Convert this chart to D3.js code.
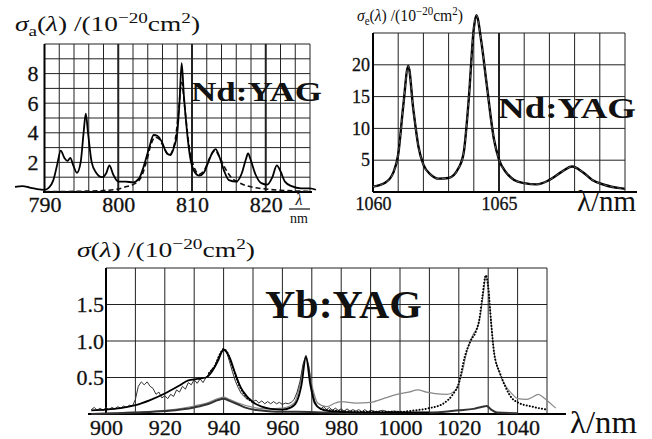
<!DOCTYPE html>
<html>
<head>
<meta charset="utf-8">
<script src="https://cdn.jsdelivr.net/npm/d3@7"></script>
<style>
  body { margin: 0; background: #fff; }
  text { font-family: "Liberation Serif", "DejaVu Serif", serif; fill: #111; }
</style>
</head>
<body>
<div id="chart"></div>
<script>
// ---- Nd:YAG absorption (top left) ----
let ndAbsWl  = [786, 787, 788, 789, 790, 790.6, 791.2, 791.7, 792.2, 792.7, 793.1, 793.5, 793.9, 794.4, 794.9, 795.3, 795.6, 795.9, 796.4, 797, 797.8, 798.4, 798.8, 799.3, 800, 801, 802, 802.8, 803.5, 804.2, 804.8, 805.3, 805.9, 806.6, 807.1, 807.6, 808.0, 808.3, 808.6, 808.9, 809.3, 809.7, 810.3, 811, 811.6, 812.2, 812.8, 813.2, 813.7, 814.3, 815, 816, 816.7, 817.3, 817.6, 818, 818.6, 819.4, 820.2, 820.9, 821.5, 822, 822.6, 823.5, 824.8, 826, 826.8];
let ndAbsVal = [0.35, 0.4, 0.3, 0.2, 0.15, 0.3, 0.8, 1.8, 2.8, 2.3, 2.1, 2.3, 1.8, 1.3, 2.0, 4.0, 5.3, 4.0, 2.0, 1.3, 1.0, 1.3, 1.8, 1.2, 0.7, 0.7, 0.65, 0.9, 1.8, 3.0, 3.85, 3.8, 3.4, 2.6, 2.5, 3.1, 4.0, 6.0, 8.7, 6.5, 4.2, 2.5, 1.4, 1.1, 1.3, 2.0, 2.7, 2.9, 2.4, 1.5, 0.8, 0.7, 1.2, 2.2, 2.6, 2.1, 1.2, 0.6, 0.5, 1.0, 1.8, 1.4, 0.7, 0.4, 0.25, 0.25, 0.15];
let ndFitWl  = [790, 795, 798, 800, 801, 802, 803, 803.8, 804.5, 805, 805.5, 806.2, 806.9, 807.6, 808.1, 808.6, 809, 809.5, 810.2, 811, 811.7, 812.4, 813.1, 813.8, 814.5, 815.3, 816.5, 818, 820, 822, 824, 826];
let ndFitVal = [0.02, 0.05, 0.1, 0.2, 0.35, 0.5, 0.9, 2.0, 3.3, 3.7, 3.6, 3.0, 2.5, 3.2, 5.0, 7.4, 5.8, 3.5, 1.8, 1.2, 1.5, 2.3, 2.8, 2.3, 1.6, 1.0, 0.6, 0.35, 0.2, 0.12, 0.07, 0.05];
let ndAbsXTicks = [790, 800, 810, 820];
let ndAbsYTicks = [2, 4, 6, 8];

// ---- Nd:YAG emission (top right) ----
let ndEmWl  = [1060, 1060.5, 1060.8, 1061, 1061.2, 1061.4, 1061.6, 1061.8, 1062, 1062.3, 1062.6, 1063, 1063.4, 1063.6, 1063.8, 1064, 1064.1, 1064.3, 1064.5, 1064.8, 1065, 1065.3, 1065.6, 1066, 1066.5, 1067, 1067.5, 1067.9, 1068.3, 1068.7, 1069.2, 1069.8, 1070];
let ndEmVal = [0.85, 1.5, 3, 5.9, 13.5, 19.8, 13, 7.2, 4.3, 2.7, 2.1, 2.2, 3.8, 6.2, 14.6, 25.7, 27.8, 23.6, 17.3, 8.3, 5.1, 3.0, 1.9, 1.4, 1.2, 1.9, 3.2, 4.0, 3.2, 1.9, 1.1, 0.6, 0.5];
let ndEmXTicks = [1060, 1065];
let ndEmYTicks = [5, 10, 15, 20];

// ---- Yb:YAG (bottom) ----
let ybAbsMeasWl  = [895, 896, 897, 898, 899, 900, 901, 902, 903, 904, 905, 906, 907, 908, 909, 910, 911, 912, 913, 914, 915, 916, 917, 918, 919, 920, 921, 922, 923, 924, 925, 926, 927, 928, 929, 930, 931, 932, 933, 934, 935, 936, 937, 938, 939, 940, 941, 942, 943, 944, 945, 946, 947, 948, 949, 950, 951, 952, 953, 954, 955, 956, 957, 958, 959, 960, 961, 962, 963, 964, 965, 966, 967, 968, 969, 970, 971, 972, 973, 974, 975, 976, 977, 978, 979, 980, 981, 982, 983, 984, 985, 986, 987, 988, 989, 990, 992, 994, 996, 998, 1000];
let ybAbsMeasVal = [0.06, 0.09, 0.05, 0.08, 0.05, 0.09, 0.06, 0.09, 0.07, 0.1, 0.08, 0.11, 0.09, 0.12, 0.11, 0.2, 0.38, 0.44, 0.4, 0.44, 0.38, 0.35, 0.27, 0.3, 0.22, 0.25, 0.21, 0.27, 0.24, 0.33, 0.3, 0.38, 0.34, 0.43, 0.4, 0.47, 0.42, 0.48, 0.43, 0.5, 0.55, 0.62, 0.65, 0.76, 0.84, 0.9, 0.85, 0.72, 0.58, 0.45, 0.36, 0.28, 0.24, 0.2, 0.21, 0.17, 0.19, 0.15, 0.18, 0.14, 0.17, 0.14, 0.17, 0.14, 0.16, 0.13, 0.15, 0.14, 0.16, 0.2, 0.3, 0.45, 0.68, 0.8, 0.65, 0.35, 0.18, 0.1, 0.07, 0.1, 0.06, 0.09, 0.05, 0.08, 0.05, 0.07, 0.04, 0.07, 0.04, 0.06, 0.04, 0.06, 0.03, 0.06, 0.03, 0.05, 0.03, 0.05, 0.03, 0.04, 0.03];
let ybAbsFitWl  = [895, 900, 905, 910, 915, 920, 925, 928, 931, 934, 936, 938, 940, 942, 944, 946, 948, 950, 953, 956, 960, 963, 965, 966.5, 968, 969.5, 971, 973, 976, 980, 990, 1000, 1010];
let ybAbsFitVal = [0.05, 0.06, 0.08, 0.12, 0.19, 0.28, 0.39, 0.46, 0.48, 0.5, 0.58, 0.72, 0.88, 0.78, 0.55, 0.35, 0.24, 0.16, 0.1, 0.07, 0.06, 0.09, 0.18, 0.4, 0.78, 0.4, 0.15, 0.07, 0.04, 0.03, 0.02, 0.02, 0.02];
let ybLowWl  = [895, 910, 920, 930, 935, 938, 940, 942, 945, 948, 952, 958, 965, 975, 990, 1000, 1010, 1020, 1025, 1028, 1029.5, 1031, 1033, 1040];
let ybLowVal = [0.0, 0.02, 0.04, 0.09, 0.14, 0.19, 0.21, 0.18, 0.13, 0.08, 0.05, 0.03, 0.03, 0.02, 0.01, 0.02, 0.02, 0.05, 0.07, 0.1, 0.11, 0.06, 0.02, 0.01];
let ybEmMeasWl  = [900, 920, 930, 935, 938, 940, 942, 945, 950, 955, 960, 964, 966, 968, 970, 972, 975, 978, 980, 985, 990, 995, 1000, 1003, 1006, 1009, 1012, 1016, 1019, 1021, 1023, 1025, 1026.5, 1027.5, 1028.5, 1029.2, 1030, 1031, 1032, 1034, 1036, 1038, 1040, 1043, 1045, 1047, 1049, 1051, 1053];
let ybEmMeasVal = [0.01, 0.05, 0.11, 0.16, 0.21, 0.23, 0.2, 0.15, 0.09, 0.07, 0.08, 0.15, 0.4, 0.8, 0.4, 0.15, 0.1, 0.15, 0.17, 0.15, 0.16, 0.22, 0.28, 0.3, 0.33, 0.3, 0.28, 0.27, 0.33, 0.55, 0.9, 1.1, 1.2, 1.4, 1.7, 1.9, 1.75, 1.25, 0.85, 0.55, 0.38, 0.28, 0.21, 0.2, 0.23, 0.27, 0.22, 0.15, 0.08];
let ybDotAWl  = [935, 937, 939, 940, 941, 943, 945, 947, 950];
let ybDotAVal = [0.56, 0.66, 0.84, 0.89, 0.86, 0.65, 0.42, 0.27, 0.16];
let ybDotBWl  = [974, 980, 990, 1000, 1005, 1010, 1015, 1018, 1020, 1022, 1024, 1026, 1027, 1028, 1029.2, 1030, 1031, 1032, 1034, 1036, 1038, 1040, 1045, 1050];
let ybDotBVal = [0.06, 0.04, 0.03, 0.03, 0.05, 0.08, 0.15, 0.27, 0.42, 0.78, 1.0, 1.15, 1.3, 1.6, 1.9, 1.74, 1.25, 0.84, 0.56, 0.36, 0.22, 0.16, 0.1, 0.06];
let ybXTicks = [900, 920, 940, 960, 980, 1000, 1020, 1040];
let ybYTicks = [0.5, 1.0, 1.5];

let w = 652;
let h = 439;
let serif = '"Liberation Serif", "DejaVu Serif", serif';

let svg = d3.select("#chart")
  .append("svg")
  .attr("width", w)
  .attr("height", h)
  .attr("font-family", serif);

function drawGrid(g, x, y, xs, ys, heavy) {
  let [y0, y1] = y.range();
  let [x0, x1] = x.range();
  g.selectAll(".vg").data(xs).join("line")
    .attr("x1", d => x(d)).attr("x2", d => x(d))
    .attr("y1", y0).attr("y2", y1)
    .attr("stroke", "#222")
    .attr("stroke-width", d => heavy.includes(d) ? 2 : 1);
  g.selectAll(".hg").data(ys).join("line")
    .attr("x1", x0).attr("x2", x1)
    .attr("y1", d => y(d)).attr("y2", d => y(d))
    .attr("stroke", "#222")
    .attr("stroke-width", 1);
}

function drawFrame(g, x, y, bx0, bx1) {
  let [y0, y1] = y.range();
  g.append("line")
    .attr("x1", x.range()[0]).attr("x2", x.range()[0])
    .attr("y1", y0).attr("y2", y1)
    .attr("stroke", "#000").attr("stroke-width", 2);
  g.append("line")
    .attr("x1", bx0).attr("x2", bx1)
    .attr("y1", y0).attr("y2", y0)
    .attr("stroke", "#000").attr("stroke-width", 2.2);
}

function drawAxes(g, x, y, xt, yt, fs, yfmt, xPad, yPad) {
  let ax = g.append("g")
    .attr("transform", `translate(0,${y.range()[0]})`)
    .call(d3.axisBottom(x).tickValues(xt).tickSize(0).tickPadding(xPad).tickFormat(d3.format("d")));
  let ay = g.append("g")
    .attr("transform", `translate(${x.range()[0]},0)`)
    .call(d3.axisLeft(y).tickValues(yt).tickSize(0).tickPadding(yPad).tickFormat(yfmt));
  [ax, ay].forEach(a => {
    a.attr("font-family", serif);
    a.select(".domain").remove();
    a.selectAll("text")
      .attr("font-size", fs)
      .attr("fill", "#111")
      .attr("stroke", "#111")
      .attr("stroke-width", 0.3);
  });
}

function drawLine(g, x, y, wl, val, stroke, width, dash) {
  let line = d3.line()
    .x(d => x(d[0]))
    .y(d => y(d[1]))
    .curve(d3.curveMonotoneX);
  g.append("path")
    .datum(d3.zip(wl, val))
    .attr("d", line)
    .attr("fill", "none")
    .attr("stroke", stroke)
    .attr("stroke-width", width)
    .attr("stroke-dasharray", dash || null)
    .attr("stroke-linecap", dash && dash.startsWith("0") ? "round" : "butt");
}

function drawLinear(g, x, y, wl, val, stroke, width) {
  g.append("path")
    .datum(d3.zip(wl, val))
    .attr("d", d3.line().x(d => x(d[0])).y(d => y(d[1])))
    .attr("fill", "none")
    .attr("stroke", stroke)
    .attr("stroke-width", width);
}

// sigma title with sub/superscripts
function sigmaTitle(g, x, yb, size, sub, len) {
  let up = size * 0.36;
  let t = g.append("text").attr("x", x).attr("y", yb).attr("font-size", size);
  t.append("tspan").text("σ").attr("font-style", "italic");
  if (sub) {
    t.append("tspan").text(sub).attr("font-size", size * 0.7).attr("dy", size * 0.22);
    t.append("tspan").text("(").attr("dy", -size * 0.22);
  } else {
    t.append("tspan").text("(");
  }
  t.append("tspan").text("λ").attr("font-style", "italic");
  t.append("tspan").text(") /(10");
  t.append("tspan").text("−20").attr("font-size", size * 0.7).attr("dy", -up);
  t.append("tspan").text("cm").attr("dy", up);
  t.append("tspan").text("2").attr("font-size", size * 0.7).attr("dy", -up);
  t.append("tspan").text(")").attr("dy", up);
  if (len) t.attr("textLength", len).attr("lengthAdjust", "spacingAndGlyphs");
}

function bigLabel(g, text, x, yb, size, len) {
  g.append("text")
    .attr("x", x).attr("y", yb)
    .attr("font-size", size)
    .attr("font-weight", "bold")
    .attr("textLength", len)
    .attr("lengthAdjust", "spacingAndGlyphs")
    .text(text);
}

// ===== panel 1: Nd:YAG absorption =====
{
  let g = svg.append("g");
  let x = d3.scaleLinear().domain([790, 826]).range([44.5, 310]);
  let y = d3.scaleLinear().domain([0, 10]).range([192, 44]);
  drawGrid(g, x, y, d3.range(790, 827, 2), d3.range(0, 11, 1), [800, 810, 820]);
  drawFrame(g, x, y, 43, 312);
  drawAxes(g, x, y, ndAbsXTicks, ndAbsYTicks, 22, d3.format("d"), 4, 6);
  bigLabel(g, "Nd:YAG", 191, 101, 28, 131);
  drawLine(g, x, y, ndFitWl, ndFitVal, "#111", 1.6, "5,3");
  drawLine(g, x, y, ndAbsWl, ndAbsVal, "#000", 1.8);
  sigmaTitle(g, 15, 31, 22, "a", 185);
  // lambda / nm fraction
  g.append("text").attr("x", 299).attr("y", 205).attr("font-size", 16)
    .attr("text-anchor", "middle").attr("font-style", "italic").text("λ");
  g.append("line").attr("x1", 289).attr("x2", 310).attr("y1", 209).attr("y2", 209)
    .attr("stroke", "#111").attr("stroke-width", 1.2);
  g.append("text").attr("x", 299).attr("y", 223).attr("font-size", 14)
    .attr("text-anchor", "middle").text("nm");
}

// ===== panel 2: Nd:YAG emission =====
{
  let g = svg.append("g");
  let x = d3.scaleLinear().domain([1060, 1070]).range([373, 625]);
  let y = d3.scaleLinear().domain([0, 25]).range([192, 33]);
  drawGrid(g, x, y, d3.range(1060, 1071, 1), d3.range(0, 26, 5), [1065]);
  drawFrame(g, x, y, 373, 637);
  drawAxes(g, x, y, ndEmXTicks, ndEmYTicks, 18, d3.format("d"), 5, 3);
  bigLabel(g, "Nd:YAG", 498, 118, 30, 138);
  drawLine(g, x, y, ndEmWl, ndEmVal, "#000", 2.4);
  drawLine(g, x, y, ndEmWl, ndEmVal, "#777", 0.8, "4,3");
  sigmaTitle(g, 357, 21, 17, "e", 106);
  g.append("text").attr("x", 577).attr("y", 211).attr("font-size", 29)
    .attr("textLength", 59).attr("lengthAdjust", "spacingAndGlyphs").text("λ/nm");
}

// ===== panel 3: Yb:YAG =====
{
  let g = svg.append("g");
  let x = d3.scaleLinear().domain([900, 1050]).range([106, 547]);
  let y = d3.scaleLinear().domain([0, 2]).range([414, 268]);
  drawGrid(g, x, y, d3.range(900, 1051, 10), d3.range(0, 2.01, 0.5), []);
  drawFrame(g, x, y, 88, 566);
  drawAxes(g, x, y, ybXTicks, ybYTicks, 22, d3.format(".1f"), 5, 2);
  bigLabel(g, "Yb:YAG", 265, 318, 40, 157);
  drawLine(g, x, y, ybEmMeasWl, ybEmMeasVal, "#888", 1.2);
  drawLinear(g, x, y, ybAbsMeasWl, ybAbsMeasVal, "#333", 1);
  drawLine(g, x, y, ybLowWl, ybLowVal, "#333", 2);
  drawLine(g, x, y, ybAbsFitWl, ybAbsFitVal, "#000", 1.8);
  drawLine(g, x, y, ybDotAWl, ybDotAVal, "#000", 2, "0.1,3");
  drawLine(g, x, y, ybDotBWl, ybDotBVal, "#000", 2, "0.1,3");
  sigmaTitle(g, 77, 257, 22, null, 178);
  g.append("text").attr("x", 570).attr("y", 433).attr("font-size", 31)
    .attr("textLength", 67).attr("lengthAdjust", "spacingAndGlyphs").text("λ/nm");
}
</script>
</body>
</html>
